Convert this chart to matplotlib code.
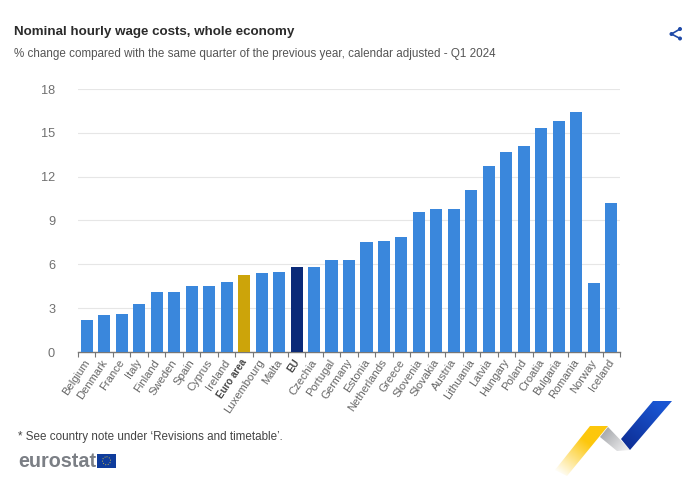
import numpy as np
import matplotlib
matplotlib.use("Agg")
import matplotlib.pyplot as plt
from matplotlib.patches import Polygon, Rectangle, Circle
from matplotlib.colors import LinearSegmentedColormap

plt.rcParams['font.family'] = ['Liberation Sans', 'DejaVu Sans']

countries = ['Belgium', 'Denmark', 'France', 'Italy', 'Finland', 'Sweden', 'Spain', 'Cyprus',
             'Ireland', 'Euro area', 'Luxembourg', 'Malta', 'EU', 'Czechia', 'Portugal',
             'Germany', 'Estonia', 'Netherlands', 'Greece', 'Slovenia', 'Slovakia', 'Austria',
             'Lithuania', 'Latvia', 'Hungary', 'Poland', 'Croatia', 'Bulgaria', 'Romania',
             'Norway', 'Iceland']
values = [2.2, 2.5, 2.6, 3.3, 4.1, 4.1, 4.5, 4.5, 4.8, 5.3, 5.4, 5.5, 5.8, 5.8, 6.3, 6.3,
          7.5, 7.6, 7.9, 9.6, 9.8, 9.8, 11.1, 12.7, 13.7, 14.1, 15.3, 15.8, 16.4, 4.7, 10.2]
y_ticks = [0, 3, 6, 9, 12, 15, 18]
highlight = {'Euro area': '#cca40a', 'EU': '#0b2a78'}

W, H = 700, 486
fig = plt.figure(figsize=(W / 100, H / 100), dpi=100, facecolor='white')

# main chart, placed in pixels
ax = fig.add_axes([78 / W, 1 - 352 / H, 542 / W, 263 / H])
x = np.arange(len(countries))
colors = [highlight.get(c, '#3a87dc') for c in countries]
ax.bar(x, values, width=0.69, color=colors, zorder=3)
ax.set_xlim(-0.5, len(countries) - 0.5)
ax.set_ylim(0, 18)
ax.set_yticks(y_ticks)
ax.tick_params(axis='y', length=0, labelsize=9.2, labelcolor='#707070', pad=16.5)
ax.grid(axis='y', color='#e6e6e6', linewidth=0.8, zorder=0)
ax.set_axisbelow(True)
for side in ['top', 'right', 'left']:
    ax.spines[side].set_visible(False)
ax.spines['bottom'].set_color('#777777')
ax.spines['bottom'].set_linewidth(1)

# ticks sit between the bars, labels under the bars
ax.set_xticks(np.arange(len(countries) + 1) - 0.5)
ax.set_xticklabels([])
ax.tick_params(axis='x', length=3.5, width=0.8, color='#777777')
for i, c in enumerate(countries):
    bold = c in highlight
    ax.annotate(c, (i, 0), xycoords=('data', 'axes fraction'), xytext=(0.5, -6),
                textcoords='offset points', rotation=56, rotation_mode='anchor',
                ha='right', va='center', color='#444444' if bold else '#666666',
                fontsize=7.0 if bold else 8.1, fontweight='bold' if bold else 'normal')

# overlay in image pixels for the titles, note and logos
ov = fig.add_axes([0, 0, 1, 1], facecolor='none')
ov.set_xlim(0, W)
ov.set_ylim(H, 0)
ov.axis('off')

ov.text(14, 32, 'Nominal hourly wage costs, whole economy', fontsize=9.6, fontweight='bold',
        color='#2b2b2b', va='center')
ov.text(14, 54, '% change compared with the same quarter of the previous year, calendar adjusted - Q1 2024',
        fontsize=8.4, color='#555555', va='center')
ov.text(18, 437, '* See country note under ‘Revisions and timetable’.', fontsize=8.4,
        color='#444444', va='center')
ov.text(18, 461, 'eurostat', fontsize=14.2, fontweight='bold', color='#7b7f85', va='center')

# flag
ov.add_patch(Rectangle((97, 454), 19, 13.5, color='#0f3c9c', lw=0))
ov.add_patch(Circle((106.5, 460.8), 4, fill=False, ec='#c9b84a', lw=0.7, ls=':'))

# share icon
icon = '#1f4aa8'
ov.plot([680, 671.5, 680], [29, 34, 38.5], color=icon, lw=1.2)
for px, py in [(680, 29), (671.5, 34), (680, 38.5)]:
    ov.add_patch(Circle((px, py), 2, color=icon, lw=0))


def gradient_poly(points, start, end, c0, c1):
    # polygon filled with a linear gradient running from start to end
    xs = np.linspace(min(p[0] for p in points), max(p[0] for p in points), 80)
    ys = np.linspace(min(p[1] for p in points), max(p[1] for p in points), 80)
    gx, gy = np.meshgrid(xs, ys)
    d = np.array(end) - np.array(start)
    t = ((gx - start[0]) * d[0] + (gy - start[1]) * d[1]) / (d @ d)
    cmap = LinearSegmentedColormap.from_list('g', [c0, c1])
    im = ov.imshow(np.clip(t, 0, 1), cmap=cmap, vmin=0, vmax=1, aspect='auto', zorder=2,
                   extent=(xs[0], xs[-1], ys[-1], ys[0]), origin='upper')
    patch = Polygon(points, closed=True, transform=ov.transData, fc='none', ec='none')
    ov.add_patch(patch)
    im.set_clip_path(patch)


# corner logo
gradient_poly([(555, 470), (590, 426), (608, 426), (567, 476)], (558, 474), (585, 440), '#ffffff', '#fdc70c')
gradient_poly([(608, 427), (630, 450), (617, 451), (600, 437)], (604, 431), (626, 451), '#a8aaae', '#eeeeef')
gradient_poly([(653, 401), (672, 401), (630, 450), (621, 439)], (626, 446), (660, 405), '#0e2f96', '#1a55d2')
ov.set_xlim(0, W)
ov.set_ylim(H, 0)

fig.savefig('out.png', dpi=100, facecolor='white')
